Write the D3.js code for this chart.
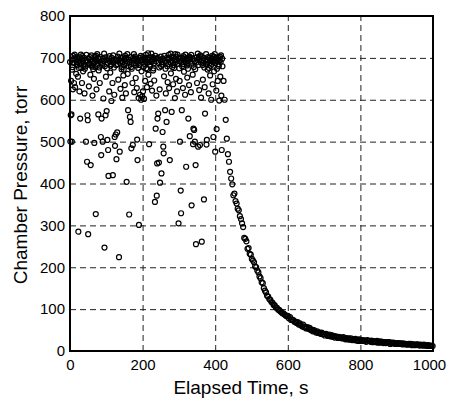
<!DOCTYPE html>
<html>
<head>
<meta charset="utf-8">
<script src="https://cdn.jsdelivr.net/npm/d3@7"></script>
<style>
  body { margin: 0; background: #fff; }
  #pressureChart text { font-family: "Liberation Sans", Arial, Helvetica, sans-serif; fill: #000; }
</style>
</head>
<body>
<div id="pressureChart"></div>
<script>
// Hold phase: chamber pressure logged once per second, t = 0..419 s
const holdStart = 0;
const holdStep = 1;
const holdPressure = [
  690, 500, 563, 645, 565, 500, 672, 678, 625, 705, 688, 640, 698, 708, 630, 695, 702, 662, 690, 682,
  684, 699, 655, 285, 676, 693, 620, 701, 555, 688, 708, 676, 697, 640, 704, 692, 668, 681, 686, 700,
  615, 674, 694, 680, 500, 707, 690, 452, 563, 551, 279, 699, 632, 684, 687, 702, 660, 444, 695, 706,
  682, 679, 610, 693, 673, 688, 650, 497, 703, 696, 678, 327, 705, 625, 692, 709, 684, 700, 565, 670,
  697, 677, 640, 690, 702, 511, 468, 555, 683, 686, 500, 698, 603, 693, 710, 247, 680, 701, 563, 655,
  695, 573, 675, 504, 688, 480, 418, 699, 620, 704, 691, 665, 681, 685, 597, 700, 694, 640, 420, 706,
  689, 677, 612, 511, 490, 697, 517, 683, 458, 692, 522, 685, 703, 648, 695, 224, 710, 476, 688, 626,
  700, 693, 673, 678, 605, 690, 701, 658, 672, 684, 697, 635, 705, 692, 615, 700, 404, 687, 709, 662,
  575, 696, 680, 326, 690, 559, 702, 547, 678, 484, 674, 694, 640, 492, 700, 686, 709, 618, 695, 703,
  688, 652, 682, 697, 628, 505, 456, 691, 676, 604, 301, 683, 700, 612, 694, 705, 600, 668, 690, 608,
  702, 620, 695, 679, 602, 686, 700, 645, 693, 707, 675, 698, 630, 673, 689, 711, 660, 696, 494, 701,
  684, 681, 638, 693, 710, 690, 622, 702, 697, 670, 675, 687, 646, 699, 356, 705, 531, 692, 610, 371,
  448, 555, 700, 567, 688, 450, 677, 625, 402, 695, 703, 680, 424, 684, 690, 523, 698, 488, 472, 656,
  705, 693, 575, 674, 615, 688, 547, 700, 680, 642, 696, 685, 707, 628, 699, 456, 690, 710, 663, 702,
  571, 694, 678, 688, 637, 701, 683, 676, 697, 604, 709, 690, 650, 703, 695, 620, 708, 686, 699, 305,
  692, 675, 645, 500, 700, 383, 329, 689, 575, 680, 697, 628, 704, 685, 667, 701, 693, 612, 708, 690,
  440, 699, 682, 653, 688, 674, 555, 696, 635, 703, 513, 691, 700, 618, 707, 348, 686, 698, 660, 494,
  531, 678, 528, 692, 500, 673, 444, 255, 689, 701, 640, 695, 710, 488, 683, 702, 623, 697, 492, 706,
  690, 605, 703, 261, 694, 683, 648, 688, 700, 362, 677, 630, 567, 696, 685, 709, 493, 504, 691, 672,
  702, 695, 615, 676, 687, 700, 658, 693, 681, 600, 698, 686, 705, 637, 691, 511, 703, 668, 696, 709,
  476, 688, 700, 622, 530, 674, 692, 645, 701, 685, 680, 598, 694, 703, 655, 690, 706, 610, 480, 698
];

// Vent phase: logged every 3 s, t = 420..999 s
const ventStart = 420;
const ventStep = 3;
const ventPressure = [
  680, 645, 600, 552, 507, 470, 452, 428, 412, 398,
  372, 376, 358, 352, 340, 336, 322, 315, 305, 296,
  270, 268, 262, 244, 246, 232, 230, 220, 216, 212,
  202, 200, 192, 188, 178, 174, 164, 162, 150, 144,
  140, 132, 130, 124, 122, 117, 115, 110, 109, 104,
  103, 99, 98, 95, 93, 90, 90, 87, 85, 83,
  84, 78, 81, 74, 75, 74, 70, 70, 67, 69,
  63, 66, 62, 59, 63, 57, 58, 54, 57, 53,
  55, 50, 51, 47, 50, 47, 44, 47, 43, 44,
  41, 44, 40, 41, 37, 41, 38, 36, 39, 35,
  38, 34, 36, 32, 35, 34, 31, 34, 31, 32,
  30, 33, 30, 28, 31, 28, 30, 27, 30, 26,
  28, 26, 29, 25, 27, 24, 28, 25, 24, 26,
  24, 25, 22, 26, 24, 24, 22, 25, 21, 23,
  23, 21, 24, 20, 21, 23, 20, 22, 19, 21,
  19, 21, 20, 21, 17, 20, 18, 20, 18, 17,
  19, 17, 19, 17, 18, 16, 18, 16, 17, 16,
  15, 17, 16, 17, 14, 16, 15, 14, 16, 15,
  15, 13, 15, 14, 13, 15, 13, 14, 12, 14,
  13, 12, 13, 12
];

const xTicks = [0, 200, 400, 600, 800, 1000];
const yTicks = [0, 100, 200, 300, 400, 500, 600, 700, 800];

function drawPressureChart() {
    const container = d3.select("#pressureChart");
    container.selectAll("*").remove();

    const W = 450, H = 398;
    const margin = { top: 16, right: 17, bottom: 47, left: 70 };
    const width = W - margin.left - margin.right;
    const height = H - margin.top - margin.bottom;

    const svg = container.append("svg")
        .attr("width", W)
        .attr("height", H);

    const g = svg.append("g")
        .attr("transform", `translate(${margin.left},${margin.top})`);

    const x = d3.scaleLinear().domain([0, 1000]).range([0, width]);
    const y = d3.scaleLinear().domain([0, 800]).range([height, 0]);

    // 1. Dashed grid (inner lines only, the frame covers the ends)
    g.append("g")
        .attr("transform", `translate(0,${height})`)
        .call(d3.axisBottom(x).tickValues(xTicks.slice(1, -1)).tickSize(-height).tickFormat(""))
        .call(a => a.select(".domain").remove())
        .call(a => a.selectAll(".tick line")
            .attr("stroke", "#222").attr("stroke-width", 1).attr("stroke-dasharray", "6,4"));

    g.append("g")
        .call(d3.axisLeft(y).tickValues(yTicks.slice(1, -1)).tickSize(-width).tickFormat(""))
        .call(a => a.select(".domain").remove())
        .call(a => a.selectAll(".tick line")
            .attr("stroke", "#222").attr("stroke-width", 1).attr("stroke-dasharray", "6,4"));

    // 2. Data points
    const points = holdPressure.map((p, i) => ({ t: holdStart + i * holdStep, p }))
        .concat(ventPressure.map((p, i) => ({ t: ventStart + i * ventStep, p })));

    g.append("g")
        .selectAll("circle")
        .data(points)
        .enter()
        .append("circle")
        .attr("cx", d => x(d.t))
        .attr("cy", d => y(d.p))
        .attr("r", 2.5)
        .attr("fill", "none")
        .attr("stroke", "#000")
        .attr("stroke-width", 1.2);

    // 3. Frame
    g.append("rect")
        .attr("width", width)
        .attr("height", height)
        .attr("fill", "none")
        .attr("stroke", "#000")
        .attr("stroke-width", 2);

    // 4. Tick labels
    g.append("g")
        .attr("transform", `translate(0,${height})`)
        .call(d3.axisBottom(x).tickValues(xTicks).tickSize(0).tickPadding(8).tickFormat(d3.format("d")))
        .call(a => a.select(".domain").remove())
        .call(a => a.selectAll("text").attr("font-size", 15).attr("fill", "#000"))
        .call(a => a.selectAll("text").filter(d => d === 1000).attr("dx", -4));

    g.append("g")
        .call(d3.axisLeft(y).tickValues(yTicks).tickSize(0).tickPadding(5))
        .call(a => a.select(".domain").remove())
        .call(a => a.selectAll("text").attr("font-size", 15).attr("fill", "#000"));

    // 5. Axis titles
    svg.append("text")
        .attr("x", 241)
        .attr("y", 394)
        .attr("text-anchor", "middle")
        .attr("font-size", 19)
        .text("Elapsed Time, s");

    svg.append("text")
        .attr("transform", "translate(27,185) rotate(-90)")
        .attr("text-anchor", "middle")
        .attr("font-size", 19)
        .text("Chamber Pressure, torr");
}

drawPressureChart();
</script>
</body>
</html>
